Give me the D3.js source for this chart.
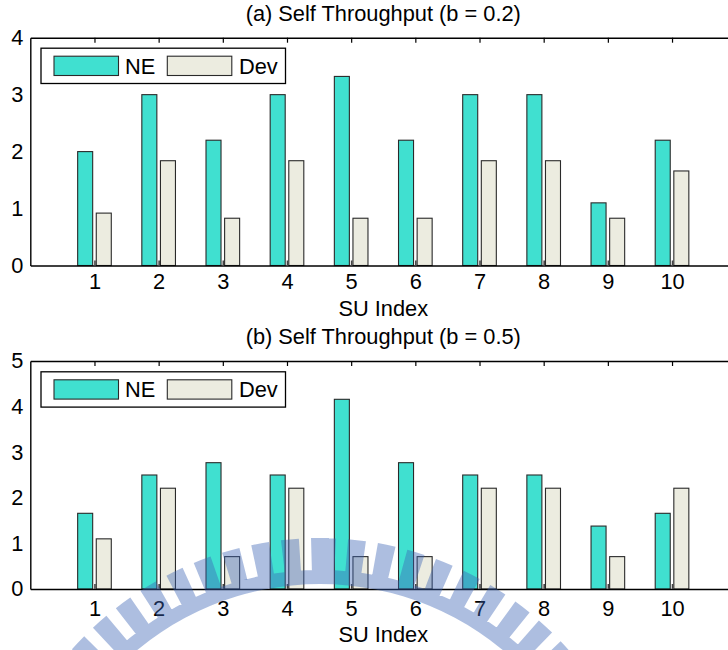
<!DOCTYPE html>
<html>
<head>
<meta charset="utf-8">
<script src="https://cdn.jsdelivr.net/npm/d3@7/dist/d3.min.js"></script>
<style>
  html, body { margin: 0; padding: 0; background: #fff; }
  svg { display: block; font-family: "Liberation Sans", Arial, Helvetica, sans-serif; }
</style>
</head>
<body>
<svg id="chart" width="728" height="650"></svg>
<script>
// ---- data ----
const categories = [1, 2, 3, 4, 5, 6, 7, 8, 9, 10];
const seriesNames = ["NE", "Dev"];
const neA  = [2.0, 3.0, 2.2, 3.0, 3.32, 2.2, 3.0, 3.0, 1.1, 2.2];
const devA = [0.92, 1.84, 0.83, 1.84, 0.83, 0.83, 1.84, 1.84, 0.83, 1.66];
const neB  = [1.66, 2.5, 2.77, 2.5, 4.16, 2.77, 2.5, 2.5, 1.38, 1.66];
const devB = [1.1, 2.21, 0.71, 2.21, 0.71, 0.71, 2.21, 2.21, 0.71, 2.21];
const yTicksA = [0, 1, 2, 3, 4];
const yTicksB = [0, 1, 2, 3, 4, 5];
const titles = ["(a) Self Throughput (b = 0.2)", "(b) Self Throughput (b = 0.5)"];
const xLabel = "SU Index";

// ---- styles ----
const colNE = "#40E0D0", colDev = "#ECECE0", edge = "#2a2a2a";
const FS = 21.8;

const svg = d3.select("#chart");
const x = d3.scaleLinear().domain([0, 11]).range([30.3, 736.2]);
const barW = 0.234, barOff = 0.145;

function panel(cfg) {
  const y = d3.scaleLinear().domain([0, cfg.ymax]).range([cfg.bottom, cfg.top]);
  const g = svg.append("g");

  // title
  g.append("text").attr("x", (x.range()[0] + x.range()[1]) / 2).attr("y", cfg.titleY)
    .attr("text-anchor", "middle").attr("font-size", FS).attr("fill", "#000").text(cfg.title);

  // bars
  const series = [
    { name: seriesNames[0], vals: cfg.ne, off: -barOff, fill: colNE },
    { name: seriesNames[1], vals: cfg.dev, off: barOff, fill: colDev }
  ];
  series.forEach(s => {
    g.append("g").selectAll("rect").data(categories).join("rect")
      .attr("x", (c) => x(c + s.off - barW / 2))
      .attr("width", x(barW) - x(0))
      .attr("y", (c, i) => y(s.vals[i]))
      .attr("height", (c, i) => y(0) - y(s.vals[i]))
      .attr("fill", s.fill).attr("stroke", edge).attr("stroke-width", 1.1);
  });

  // bottom axis (ticks pointing in)
  const xb = g.append("g").attr("transform", `translate(0,${cfg.bottom})`)
    .call(d3.axisBottom(x).tickValues(categories).tickFormat(d3.format("d"))
      .tickSizeInner(-5).tickSizeOuter(0).tickPadding(cfg.tickPad));
  xb.select(".domain").attr("stroke", "#000").attr("stroke-width", 1.4);
  xb.selectAll(".tick line").attr("stroke", "#444").attr("stroke-width", 1.6);
  xb.selectAll(".tick text").attr("font-size", FS).attr("fill", "#000").attr("font-family", null);

  // top axis
  const xt = g.append("g").attr("transform", `translate(0,${cfg.top})`)
    .call(d3.axisTop(x).tickValues(categories).tickFormat("").tickSizeInner(-5).tickSizeOuter(0));
  xt.select(".domain").attr("stroke", "#000").attr("stroke-width", 1.4);
  xt.selectAll(".tick line").attr("stroke", "#000").attr("stroke-width", 1.2);

  // left axis
  const yl = g.append("g").attr("transform", `translate(${x(0)},0)`)
    .call(d3.axisLeft(y).tickValues(cfg.yticks).tickFormat(d3.format("d"))
      .tickSizeInner(0).tickSizeOuter(0).tickPadding(7));
  yl.select(".domain").attr("stroke", "#000").attr("stroke-width", 1.4);
  yl.selectAll(".tick text").attr("font-size", FS).attr("fill", "#000").attr("font-family", null);

  // x label
  g.append("text").attr("x", (x.range()[0] + x.range()[1]) / 2).attr("y", cfg.xlabelY)
    .attr("text-anchor", "middle").attr("font-size", FS).attr("fill", "#000").text(xLabel);

  // legend
  const lg = g.append("g").attr("transform", `translate(41,${cfg.legY})`);
  lg.append("rect").attr("x", 0).attr("y", 0).attr("width", 244.5).attr("height", 35.3)
    .attr("fill", "#fff").attr("stroke", "#000").attr("stroke-width", 1.3);
  const items = [
    { name: seriesNames[0], fill: colNE, sx: 13, tx: 84 },
    { name: seriesNames[1], fill: colDev, sx: 126.3, tx: 198 }
  ];
  items.forEach(it => {
    lg.append("rect").attr("x", it.sx).attr("y", 8).attr("width", 64.5).attr("height", 19.3)
      .attr("fill", it.fill).attr("stroke", edge).attr("stroke-width", 1.1);
    lg.append("text").attr("x", it.tx).attr("y", 25.4).attr("font-size", FS).attr("fill", "#000").text(it.name);
  });
}

panel({ title: titles[0], titleY: 21, top: 37.7, bottom: 265.5, ymax: 4, yticks: yTicksA,
        ne: neA, dev: devA, tickPad: 8.5, xlabelY: 315.5, legY: 48.2 });
panel({ title: titles[1], titleY: 344, top: 361, bottom: 589, ymax: 5, yticks: yTicksB,
        ne: neB, dev: devB, tickPad: 11.5, xlabelY: 642, legY: 371.8 });

// ---- faint watermark seal (decorative) ----
const wm = svg.append("g").attr("transform", "translate(320,870)")
  .attr("fill", "rgb(60,100,180)").attr("opacity", 0.42);
const deg = Math.PI / 180;
const toothPath = d3.range(0, 70).map(k => {
  const a = (1.2 + 5.2 * k) * deg;
  return d3.arc()({ innerRadius: 299, outerRadius: 332, startAngle: a - 1.55 * deg, endAngle: a + 1.55 * deg });
}).join("");
wm.append("path").attr("d", toothPath + d3.arc()({ innerRadius: 286, outerRadius: 300, startAngle: 0, endAngle: 2 * Math.PI }));
</script>
</body>
</html>
